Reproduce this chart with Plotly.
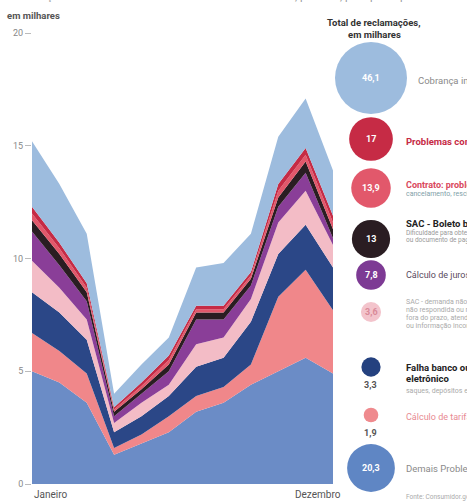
import plotly.graph_objects as go

# Monthly complaints, in thousands (stack order: bottom to top)
meses = ["Janeiro", "Fevereiro", "Março", "Abril", "Maio", "Junho", "Julho",
         "Agosto", "Setembro", "Outubro", "Novembro", "Dezembro"]

demais = [5.0, 4.5, 3.6, 1.3, 1.8, 2.3, 3.2, 3.6, 4.4, 5.0, 5.6, 4.9]
calculo_tarifa = [1.7, 1.4, 1.3, 0.3, 0.4, 0.7, 0.7, 0.7, 0.9, 3.3, 3.9, 2.8]
falha_banco = [1.8, 1.7, 1.5, 0.7, 0.8, 0.9, 1.3, 1.3, 1.9, 1.9, 2.0, 1.9]
sac_demanda = [1.4, 1.1, 0.9, 0.4, 0.6, 0.5, 1.0, 0.9, 1.0, 1.4, 1.5, 1.0]
calculo_juros = [1.3, 1.0, 0.8, 0.3, 0.4, 0.6, 1.1, 0.8, 0.6, 0.7, 0.8, 0.3]
sac_boleto = [0.5, 0.5, 0.4, 0.2, 0.2, 0.3, 0.3, 0.3, 0.3, 0.4, 0.5, 0.4]
contrato = [0.3, 0.25, 0.2, 0.1, 0.15, 0.2, 0.15, 0.15, 0.15, 0.3, 0.3, 0.3]
problemas = [0.3, 0.25, 0.2, 0.1, 0.15, 0.2, 0.15, 0.15, 0.15, 0.3, 0.3, 0.3]
cobranca = [2.9, 2.6, 2.2, 0.6, 0.8, 0.8, 1.7, 1.9, 1.7, 2.1, 2.2, 2.0]

y_ticks = [0, 5, 10, 15, 20]

# Yearly totals per category (thousands), top to bottom as listed at right
totais_nomes = ["Cobrança indevida/abusiva", "Problemas com o cartão de crédito",
                "Contrato", "SAC - Boleto", "Cálculo de juros",
                "SAC - demanda", "Falha banco eletrônico", "Cálculo de tarifa",
                "Demais Problemas"]
totais = [46.1, 17, 13.9, 13, 7.8, 3.6, 3.3, 1.9, 20.3]

series = [
    ("Demais Problemas", demais, "#6b8cc6"),
    ("Cálculo de tarifa", calculo_tarifa, "#f0878a"),
    ("Falha banco eletrônico", falha_banco, "#2b4787"),
    ("SAC - demanda", sac_demanda, "#f3bcc6"),
    ("Cálculo de juros", calculo_juros, "#8a3e98"),
    ("SAC - Boleto", sac_boleto, "#2a1d22"),
    ("Contrato", contrato, "#e2586b"),
    ("Problemas", problemas, "#c62b45"),
    ("Cobrança", cobranca, "#9dbcde"),
]

W, H = 467, 503
FONT = "Roboto, Arial, sans-serif"

fig = go.Figure()
for nome, vals, cor in series:
    fig.add_trace(go.Scatter(
        x=meses, y=vals, name=nome, stackgroup="um", mode="lines",
        line=dict(width=0, color=cor), fillcolor=cor, hoverinfo="skip",
    ))

# Bubble key on a pixel-like overlay axis
bolhas_cores = ["#9dbcde", "#c62b45", "#e2586b", "#2a1d22", "#7d3a94",
                "#f3c4cc", "#24417f", "#ef8a8e", "#5f86c4"]
bolhas_y = [78, 139, 188, 239, 275, 312, 367, 415, 468]
bolhas_x = [371] * len(totais)
escala = 2 * 46.1 / 72 ** 2  # area-proportional: 46,1 -> 72 px diameter

fig.add_trace(go.Scatter(
    x=bolhas_x, y=bolhas_y, xaxis="x2", yaxis="y2", mode="markers",
    marker=dict(size=totais, sizemode="area", sizeref=escala, opacity=1,
                color=bolhas_cores, line=dict(width=0)),
    hoverinfo="skip", showlegend=False,
))

def fmt(v):
    s = f"{v:.1f}".rstrip("0").rstrip(".")
    return s.replace(".", ",")

ann = []
# value labels: inside the larger circles, below the smallest ones
dentro_cor = ["white", "white", "white", "white", "white", "#d98a98", None, None, "white"]
for i, v in enumerate(totais):
    if dentro_cor[i] is not None:
        ann.append(dict(x=bolhas_x[i], y=bolhas_y[i], xref="x2", yref="y2",
                        text="<b>" + fmt(v) + "</b>", showarrow=False,
                        font=dict(family=FONT, size=9, color=dentro_cor[i])))
    else:
        ann.append(dict(x=bolhas_x[i] - 1, y=bolhas_y[i] + 18, xref="x2", yref="y2",
                        text="<b>" + fmt(v) + "</b>", showarrow=False,
                        font=dict(family=FONT, size=9, color="#555")))

# category descriptions to the right of the circles
desc = [
    (416, 80, "Cobrança indevida/abusiva", "#8a8a8a", 9.5),
    (404, 141, "<b>Problemas com cartão de crédito</b>", "#c62b45", 9.5),
    (404, 185, "<b>Contrato: problemas na renegociação</b>", "#d9485c", 9),
    (404, 194, "cancelamento, rescisão, alteração", "#7fa0a8", 7),
    (404, 223, "<b>SAC - Boleto bancário</b>", "#222", 9.5),
    (404, 233, "Dificuldade para obter boleto", "#999", 6.5),
    (404, 240, "ou documento de pagamento", "#999", 6.5),
    (404, 275, "Cálculo de juros e prestações", "#5a4a60", 9),
    (404, 302, "SAC - demanda não resolvida,", "#aaa", 7),
    (404, 310, "não respondida ou respondida", "#aaa", 7),
    (404, 318, "fora do prazo, atendimento", "#aaa", 7),
    (404, 326, "ou informação incorreta", "#aaa", 7),
    (404, 367, "<b>Falha banco ou caixa</b>", "#222", 9.5),
    (404, 378, "<b>eletrônico</b>", "#222", 9.5),
    (404, 391, "saques, depósitos e transferências", "#aaa", 7),
    (404, 417, "Cálculo de tarifas e taxas", "#e88a92", 9),
    (404, 468, "Demais Problemas", "#8a8a8a", 9.5),
    (404, 497, "Fonte: Consumidor.gov.br", "#aaa", 6.5),
]
for x, y, t, c, s in desc:
    ann.append(dict(x=x, y=y, xref="x2", yref="y2", text=t, showarrow=False,
                    xanchor="left", font=dict(family=FONT, size=s, color=c)))

# headings
ann.append(dict(x=2, y=5, xref="x2", yref="y2", xanchor="left", yanchor="bottom",
                text="Reclamações de consumidores contra bancos e financeiras, por mês, por tipo de problema",
                showarrow=False, font=dict(family=FONT, size=11, color="#999")))
ann.append(dict(x=5, y=15, xref="x2", yref="y2", xanchor="left", text="<b>em milhares</b>",
                showarrow=False, font=dict(family=FONT, size=9.5, color="#555")))
ann.append(dict(x=374, y=22, xref="x2", yref="y2", text="<b>Total de reclamações,</b>",
                showarrow=False, font=dict(family=FONT, size=9.5, color="#333")))
ann.append(dict(x=374, y=34, xref="x2", yref="y2", text="<b>em milhares</b>",
                showarrow=False, font=dict(family=FONT, size=9.5, color="#333")))

# first and last month labels
ann.append(dict(x=meses[0], y=0, xref="x", yref="y", yanchor="top", xanchor="left",
                yshift=-3, text=meses[0], showarrow=False,
                font=dict(family=FONT, size=10, color="#555")))
ann.append(dict(x=meses[-1], y=0, xref="x", yref="y", yanchor="top", xanchor="right",
                yshift=-3, xshift=10, text=meses[-1], showarrow=False,
                font=dict(family=FONT, size=10, color="#555")))

x0, x1 = 32, 333
y_top, y_bot = 33, 484

fig.update_layout(
    width=W, height=H, margin=dict(l=0, r=0, t=0, b=0),
    paper_bgcolor="white", plot_bgcolor="rgba(0,0,0,0)",
    showlegend=False, annotations=ann,
    xaxis=dict(domain=[x0 / W, x1 / W], range=[0, 11], showticklabels=False,
               showgrid=False, zeroline=False, showline=False, ticks="",
               automargin=False, fixedrange=True),
    yaxis=dict(domain=[(H - y_bot) / H, (H - y_top) / H], range=[0, 20],
               tickvals=y_ticks, ticks="outside", ticklen=6, tickcolor="#bbb",
               tickfont=dict(family=FONT, size=9, color="#888"),
               showgrid=False, zeroline=False, showline=False,
               automargin=False, fixedrange=True),
    xaxis2=dict(domain=[0, 1], range=[0, W], visible=False, anchor="y2",
                fixedrange=True),
    yaxis2=dict(domain=[0, 1], range=[H, 0], visible=False, anchor="x2",
                fixedrange=True),
)

fig.write_html("out.html")
